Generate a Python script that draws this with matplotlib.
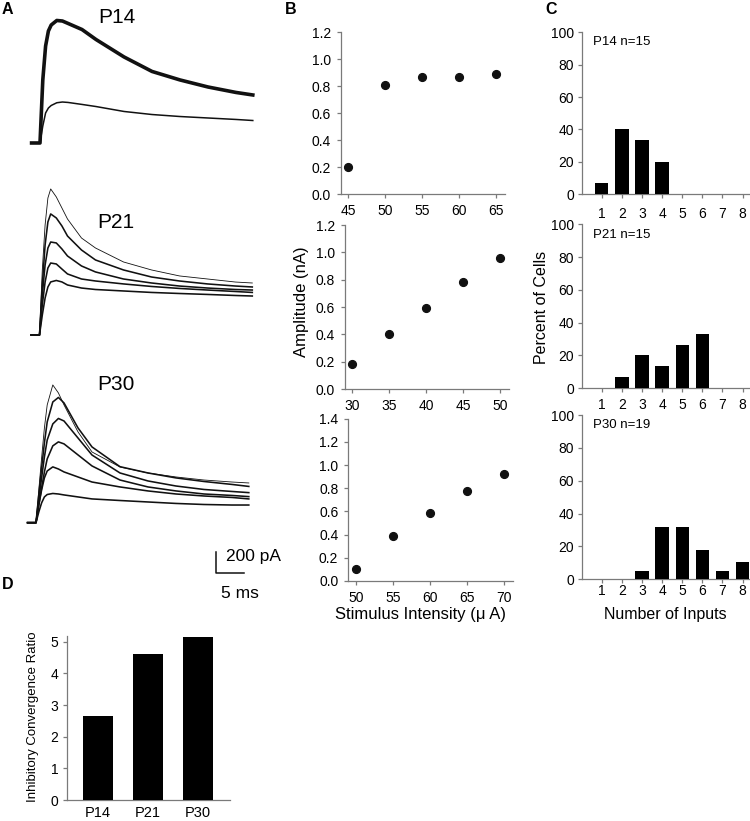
import matplotlib
matplotlib.use("Agg")
import matplotlib.pyplot as plt

plt.rcParams['font.family'] = ['Liberation Sans', 'DejaVu Sans']

W, H = 750, 821

# ---------------- Panel A: IPSC traces (time in ms, current in pA) ----------------
TIME_MS = [-1.5, 0, 0.5, 1, 1.5, 2, 3, 4, 5, 7.5, 10, 15, 20, 25, 30, 35, 38]

P14_TRACES = [
    [0, 0, 600, 923, 1066, 1123, 1166, 1161, 1138, 1080, 985, 819, 681, 600, 533, 481, 457],
    [0, 0, 162, 286, 333, 357, 383, 390, 386, 367, 347, 300, 271, 252, 238, 224, 214],
]
P21_TRACES = [
    [0, 0, 619, 1047, 1304, 1390, 1314, 1209, 1104, 923, 828, 695, 619, 562, 533, 504, 495],
    [0, 0, 476, 857, 1076, 1152, 1114, 1038, 942, 809, 714, 619, 552, 514, 486, 466, 457],
    [0, 0, 381, 666, 828, 885, 876, 819, 752, 657, 600, 533, 495, 466, 447, 433, 428],
    [0, 0, 286, 504, 638, 685, 676, 628, 581, 533, 514, 486, 462, 443, 428, 414, 405],
    [0, 0, 190, 352, 457, 505, 519, 505, 476, 447, 433, 419, 405, 395, 386, 376, 371],
]
P30_TRACES = [
    [0, 0, 311, 616, 902, 1121, 1311, 1235, 1121, 864, 673, 530, 473, 435, 406, 387, 378],
    [0, 0, 264, 521, 759, 959, 1149, 1192, 1140, 902, 721, 533, 473, 426, 392, 364, 345],
    [0, 0, 216, 426, 626, 787, 940, 992, 968, 806, 644, 473, 397, 349, 316, 297, 286],
    [0, 0, 169, 330, 483, 607, 731, 769, 750, 645, 540, 406, 340, 302, 273, 259, 248],
    [0, 0, 169, 311, 426, 492, 531, 511, 483, 435, 387, 340, 302, 273, 254, 240, 226],
    [0, 0, 102, 188, 245, 268, 278, 273, 264, 245, 226, 211, 197, 183, 173, 168, 168],
]
SCALE_MS = 5
SCALE_PA = 200

# ---------------- Panel B: amplitude vs stimulus ----------------
B_P14_X = [45, 50, 55, 60, 65]
B_P14_Y = [0.20, 0.81, 0.87, 0.87, 0.89]
B_P21_X = [30, 35, 40, 45, 50]
B_P21_Y = [0.18, 0.40, 0.59, 0.78, 0.96]
B_P30_X = [50, 55, 60, 65, 70]
B_P30_Y = [0.10, 0.39, 0.59, 0.78, 0.92]

# ---------------- Panel C: number of inputs ----------------
C_INPUTS = [1, 2, 3, 4, 5, 6, 7, 8]
C_P14 = [6.7, 40.0, 33.3, 20.0, 0, 0, 0, 0]
C_P21 = [0, 6.7, 20.0, 13.3, 26.7, 33.3, 0, 0]
C_P30 = [0, 0, 5.3, 31.6, 31.6, 17.9, 5.3, 10.5]
C_LABELS = ["P14 n=15", "P21 n=15", "P30 n=19"]

# ---------------- Panel D: convergence ratio ----------------
D_AGES = ["P14", "P21", "P30"]
D_RATIO = [2.66, 4.61, 5.16]

AXCOL = '#7a7a7a'
INK = '#111111'

fig = plt.figure(figsize=(W / 100, H / 100), dpi=100)
fig.patch.set_facecolor('white')


def ax_px(l, t, r, b):
    return fig.add_axes([l / W, 1 - b / H, (r - l) / W, (b - t) / H])


def ftext(x, y, s, **kw):
    kw.setdefault('ha', 'center')
    kw.setdefault('va', 'center')
    return fig.text(x / W, 1 - y / H, s, **kw)


def style_axes(ax, xpad, ypad, xlen=3, ylen=3, fs=10):
    for s in ['top', 'right']:
        ax.spines[s].set_visible(False)
    for s in ['left', 'bottom']:
        ax.spines[s].set_color(AXCOL)
        ax.spines[s].set_linewidth(0.9)
    ax.tick_params(axis='x', colors=AXCOL, labelcolor='black', length=xlen,
                   width=0.9, pad=xpad, labelsize=fs, direction='out')
    ax.tick_params(axis='y', colors=AXCOL, labelcolor='black', length=ylen,
                   width=0.9, pad=ypad, labelsize=fs, direction='out')
    ax.set_facecolor('none')


# ---- Panel A ----
def trace_axes(l, t, r, b, xlim, ylim, traces, thin_first):
    ax = ax_px(l, t, r, b)
    ax.set_xlim(*xlim)
    ax.set_ylim(*ylim)
    ax.axis('off')
    for i, tr in enumerate(traces):
        lw = 0.6 if (thin_first and i == 0) else 1.15
        ax.plot(TIME_MS, tr, color=INK, lw=lw, clip_on=False,
                solid_joinstyle='round')
    return ax


axA1 = ax_px(28.8, 6.4, 255.6, 153.5)
axA1.set_xlim(-2, 38.5)
axA1.set_ylim(-100, 1300)
axA1.axis('off')
axA1.plot(TIME_MS, P14_TRACES[0], color=INK, lw=2.6, clip_on=False, solid_joinstyle='round')
axA1.plot(TIME_MS, P14_TRACES[1], color=INK, lw=1.1, clip_on=False, solid_joinstyle='round')

trace_axes(28.3, 177.4, 255.1, 345.5, (-2, 38.5), (-100, 1500), P21_TRACES, True)
axA3 = trace_axes(24.8, 375.6, 251.6, 585.7, (-2, 38.5), (-600, 1400), P30_TRACES, True)

# scale bar
axA3.plot([32.1, 32.1, 32.1 + SCALE_MS], [-479 + SCALE_PA, -479, -479],
          color=INK, lw=1.1, clip_on=False)
ftext(226, 557, f"{SCALE_PA} pA", ha='left', fontsize=12.5)
ftext(221, 593, f"{SCALE_MS} ms", ha='left', fontsize=12.5)

ftext(117, 17.5, "P14", fontsize=15)
ftext(115.5, 222, "P21", fontsize=15)
ftext(116, 384, "P30", fontsize=15)

# ---- Panel B ----
b_specs = [
    ((341, 32.3, 505, 194.3), (44.05, 66.2), (0, 1.2), B_P14_X, B_P14_Y),
    ((345, 225, 509, 389), (29.05, 51.2), (0, 1.2), B_P21_X, B_P21_Y),
    ((348.3, 418.7, 513, 581), (48.96, 71.2), (0, 1.4), B_P30_X, B_P30_Y),
]
for box, xl, yl, xs, ys in b_specs:
    ax = ax_px(*box)
    ax.plot(xs, ys, 'o', color=INK, ms=5.6, clip_on=False, zorder=3)
    ax.set_xlim(*xl)
    ax.set_ylim(*yl)
    ax.set_xticks(xs)
    ticks = [round(0.2 * k, 1) for k in range(int(round(yl[1] / 0.2)) + 1)]
    ax.set_yticks(ticks)
    ax.set_yticklabels([f"{v:.1f}" for v in ticks])
    style_axes(ax, xpad=4.2, ypad=4.2)

ftext(301.7, 301.7, "Amplitude (nA)", rotation=90, fontsize=12)
ftext(420, 614, "Stimulus Intensity (\u03bc A)", fontsize=12)

# ---- Panel C ----
c_specs = [
    ((581.7, 32.3, 750, 194.3), C_P14, C_LABELS[0], 42, 6.2),
    ((581.7, 224.3, 750, 388.3), C_P21, C_LABELS[1], 235, 3.8),
    ((581.7, 415, 750, 579.3), C_P30, C_LABELS[2], 425, 0.5),
]
for box, vals, lab, ly, xpad in c_specs:
    ax = ax_px(*box)
    ax.bar(C_INPUTS, vals, width=0.66, color='black', zorder=3)
    ax.set_xlim(0, 8.37)
    ax.set_ylim(0, 100)
    ax.set_xticks(C_INPUTS)
    ax.set_yticks(range(0, 101, 20))
    style_axes(ax, xpad=xpad, ypad=2.4)
    ftext(593, ly, lab, ha='left', fontsize=9.5)

ftext(541, 307, "Percent of Cells", rotation=90, fontsize=11.5)
ftext(665, 614, "Number of Inputs", fontsize=11.5)

# ---- Panel D ----
axD = ax_px(66.7, 636, 230, 800)
axD.bar(range(len(D_AGES)), D_RATIO, width=0.6, color='black', zorder=3)
axD.set_xlim(-0.626, 2.64)
axD.set_ylim(0, 5.18)
axD.set_xticks(range(len(D_AGES)))
axD.set_xticklabels(D_AGES)
axD.set_yticks(range(0, 6))
style_axes(axD, xpad=4.0, ypad=3.0, xlen=0, fs=10)
axD.tick_params(axis='x', labelsize=10.5)
ftext(33, 717, "Inhibitory Convergence Ratio", rotation=90, fontsize=9.5)

# ---- panel letters ----
for x, y, s in [(7.5, 10, "A"), (291, 9, "B"), (551, 10, "C"), (7.5, 584, "D")]:
    ftext(x, y, s, fontsize=11.5, fontweight='bold')

fig.savefig("out.png", dpi=100, facecolor='white')
